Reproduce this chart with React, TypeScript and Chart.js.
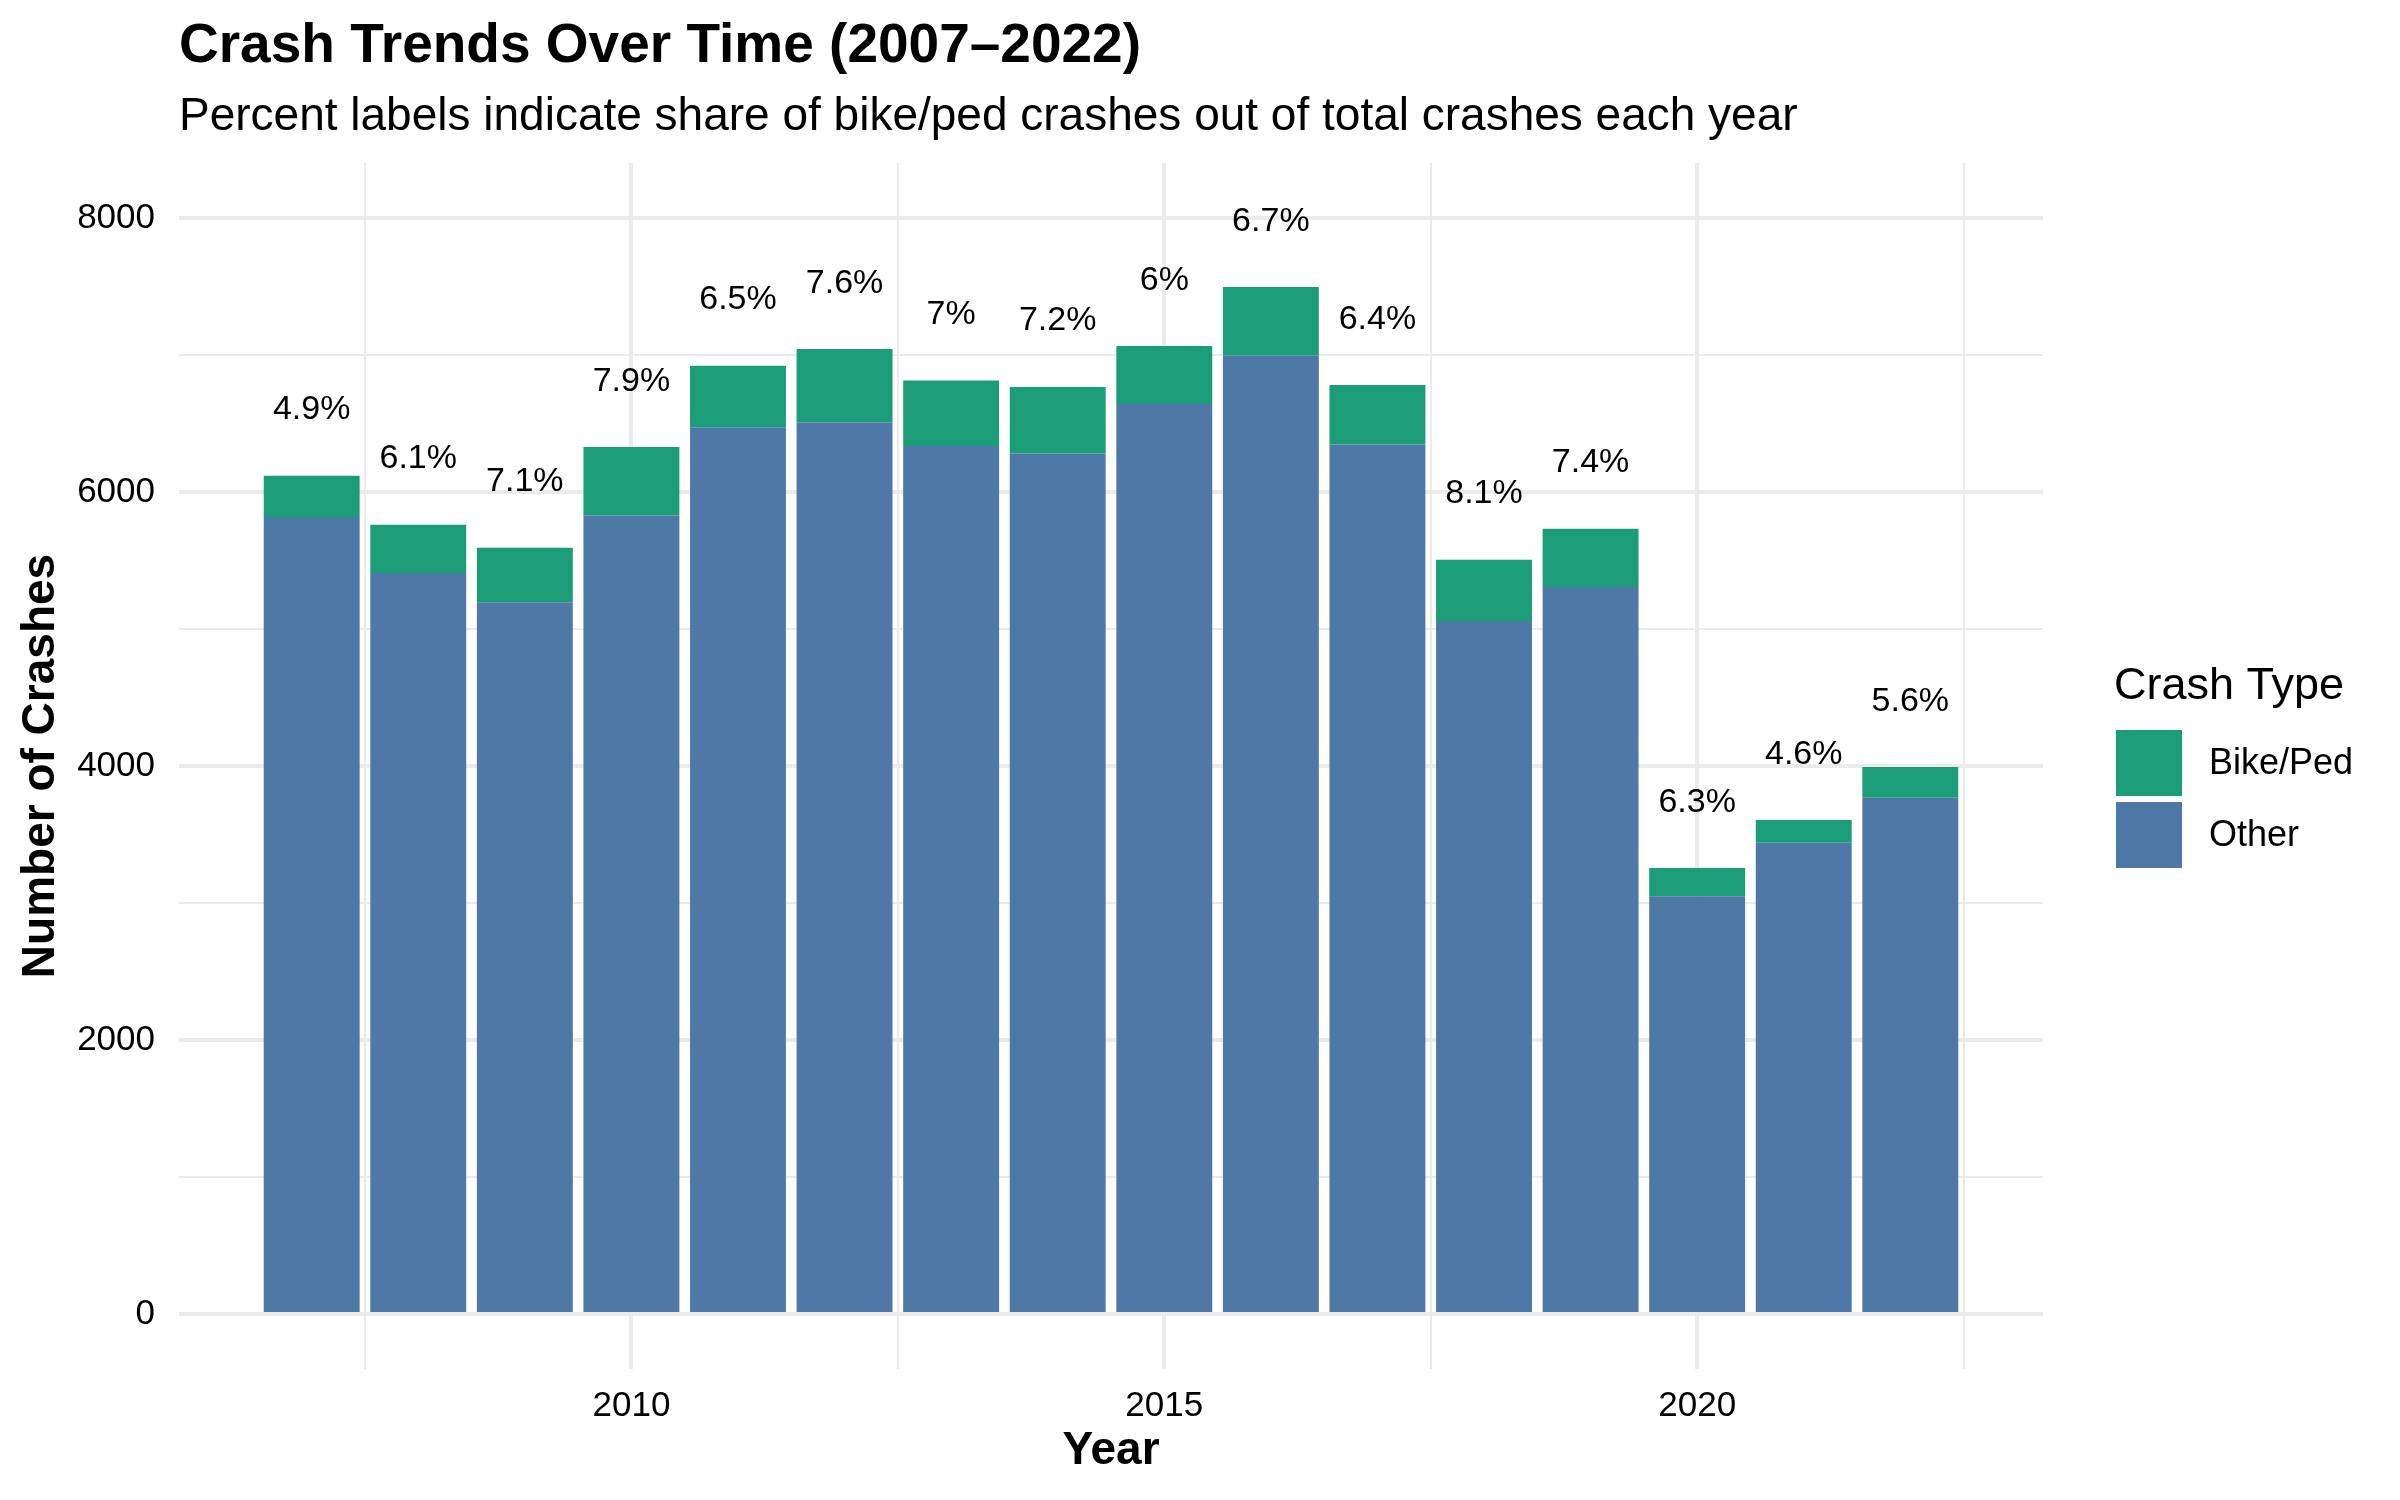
import React, { useEffect, useRef } from "react";
import { Chart, registerables } from "chart.js";

Chart.register(...registerables);

const FONT = "'Liberation Sans', Arial, Helvetica, sans-serif";

const titleText = "Crash Trends Over Time (2007–2022)";
const subtitleText = "Percent labels indicate share of bike/ped crashes out of total crashes each year";
const xTitle = "Year";
const yTitle = "Number of Crashes";
const legendTitle = "Crash Type";

const years = [2007, 2008, 2009, 2010, 2011, 2012, 2013, 2014, 2015, 2016, 2017, 2018, 2019, 2020, 2021, 2022];
const otherCrashes = [5818, 5409, 5195, 5828, 6472, 6508, 6336, 6280, 6642, 6994, 6346, 5058, 5307, 3050, 3440, 3768];
const bikePedCrashes = [300, 351, 397, 500, 450, 535, 477, 487, 424, 502, 434, 447, 424, 205, 166, 225];
const pctLabels = ["4.9%", "6.1%", "7.1%", "7.9%", "6.5%", "7.6%", "7%", "7.2%", "6%", "6.7%", "6.4%", "8.1%", "7.4%", "6.3%", "4.6%", "5.6%"];
const LABEL_OFFSET = 480;

const yTicks = [0, 1000, 2000, 3000, 4000, 5000, 6000, 7000, 8000];
const xTicks = [2007.5, 2010, 2012.5, 2015, 2017.5, 2020, 2022.5];

const seriesNames = ["Other", "Bike/Ped"];
const OTHER_COLOR = "#4E79A7";
const BIKE_COLOR = "#1B9E77";
const GRID = "#EBEBEB";

const decorPlugin = {
  id: "decor",
  afterDatasetsDraw(chart: any) {
    const ctx = chart.ctx as CanvasRenderingContext2D;
    const xs = chart.scales.x;
    const ys = chart.scales.y;
    const area = chart.chartArea;
    ctx.save();
    ctx.fillStyle = "#000";
    // percent labels
    ctx.font = `34px ${FONT}`;
    ctx.textAlign = "center";
    ctx.textBaseline = "middle";
    years.forEach((yr, i) => {
      const total = otherCrashes[i] + bikePedCrashes[i];
      ctx.fillText(pctLabels[i], xs.getPixelForValue(yr), ys.getPixelForValue(total + LABEL_OFFSET));
    });
    // title + subtitle
    ctx.textAlign = "left";
    ctx.textBaseline = "alphabetic";
    ctx.font = `bold 55px ${FONT}`;
    ctx.fillText(titleText, area.left, 62);
    ctx.font = `46px ${FONT}`;
    ctx.fillText(subtitleText, area.left, 130);
    // legend
    const lx = 2114;
    ctx.font = `45px ${FONT}`;
    ctx.fillText(legendTitle, lx, 699);
    const keys = [
      { label: seriesNames[1], color: BIKE_COLOR, top: 730 },
      { label: seriesNames[0], color: OTHER_COLOR, top: 802 },
    ];
    keys.forEach((k) => {
      ctx.fillStyle = k.color;
      ctx.fillRect(2116, k.top, 66, 66);
      ctx.fillStyle = "#000";
      ctx.font = `36px ${FONT}`;
      ctx.textBaseline = "middle";
      ctx.fillText(k.label, 2209, k.top + 34);
    });
    ctx.restore();
  },
};

export default function App() {
  const canvasRef = useRef<HTMLCanvasElement | null>(null);

  useEffect(() => {
    const canvas = canvasRef.current;
    if (!canvas) return;
    const chart = new Chart(canvas, {
      type: "bar",
      data: {
        datasets: [
          {
            label: seriesNames[0],
            data: years.map((yr, i) => ({ x: yr, y: otherCrashes[i] })),
            backgroundColor: OTHER_COLOR,
            borderWidth: 0,
            stack: "s",
          },
          {
            label: seriesNames[1],
            data: years.map((yr, i) => ({ x: yr, y: bikePedCrashes[i] })),
            backgroundColor: BIKE_COLOR,
            borderWidth: 0,
            stack: "s",
          },
        ],
      },
      options: {
        animation: false,
        responsive: false,
        devicePixelRatio: 1,
        categoryPercentage: 1,
        barPercentage: 0.9,
        layout: { padding: { left: 0, top: 163, right: 357, bottom: 0 } },
        plugins: {
          legend: { display: false },
          tooltip: { enabled: false },
          title: { display: false },
        },
        scales: {
          x: {
            type: "linear",
            stacked: true,
            offset: false,
            min: 2005.755,
            max: 2023.245,
            afterBuildTicks: (scale: any) => {
              scale.ticks = xTicks.map((v) => ({ value: v }));
            },
            afterFit: (scale: any) => {
              scale.height = 131;
            },
            ticks: {
              autoSkip: false,
              maxRotation: 0,
              minRotation: 0,
              padding: 16,
              color: "#000",
              font: { family: FONT, size: 35 },
              callback: (v: any) => (Number(v) % 5 === 0 ? String(v) : ""),
            },
            grid: {
              offset: false,
              drawTicks: false,
              color: GRID,
              lineWidth: (c: any) => (c.tick && c.tick.value % 5 === 0 ? 4 : 2),
            },
            border: { display: false },
            title: {
              display: true,
              text: xTitle,
              color: "#000",
              font: { family: FONT, size: 46, weight: "bold" },
              padding: { top: 0, bottom: 21 },
            },
          },
          y: {
            type: "linear",
            stacked: true,
            min: -401,
            max: 8401,
            afterBuildTicks: (scale: any) => {
              scale.ticks = yTicks.map((v) => ({ value: v }));
            },
            afterFit: (scale: any) => {
              scale.width = 179;
            },
            ticks: {
              autoSkip: false,
              padding: 24,
              color: "#000",
              font: { family: FONT, size: 35 },
              callback: (v: any) => (Number(v) % 2000 === 0 ? String(v) : ""),
            },
            grid: {
              drawTicks: false,
              color: GRID,
              lineWidth: (c: any) => (c.tick && c.tick.value % 2000 === 0 ? 4 : 2),
            },
            border: { display: false },
            title: {
              display: true,
              text: yTitle,
              color: "#000",
              font: { family: FONT, size: 46, weight: "bold" },
              padding: { top: 14, bottom: 0 },
            },
          },
        },
      },
      plugins: [decorPlugin],
    } as any);
    return () => chart.destroy();
  }, []);

  return (
    <div style={{ position: "fixed", left: 0, top: 0, width: 2400, height: 1500, background: "#fff" }}>
      <canvas ref={canvasRef} width={2400} height={1500} style={{ display: "block", width: 2400, height: 1500 }} />
    </div>
  );
}
